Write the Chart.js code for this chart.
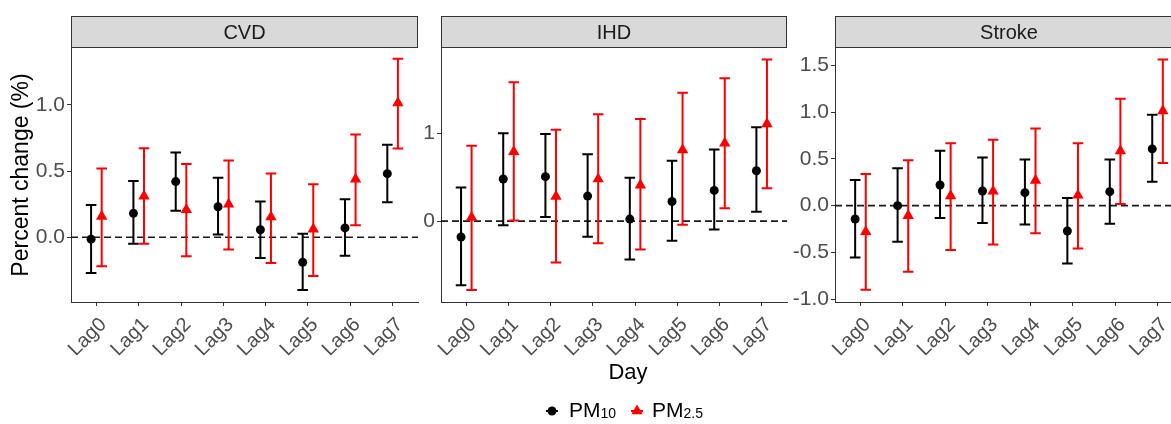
<!DOCTYPE html>
<html>
<head>
<meta charset="utf-8">
<script src="https://cdn.jsdelivr.net/npm/chart.js@4.4.1/dist/chart.umd.min.js"></script>
<style>
  html, body { margin: 0; padding: 0; background: #fff; overflow: hidden; }
  body { width: 1171px; height: 424px; position: relative; font-family: "Liberation Sans", Arial, sans-serif; }
  .box { position: absolute; top: 0; }
  #xTitle { position: absolute; left: 580px; width: 96px; top: 359px; text-align: center; font-size: 22px; color: #000; }
  .item { position: absolute; top: 397px; font-size: 21px; line-height: 26px; color: #000; white-space: nowrap; }
  .item sub { font-size: 14px; vertical-align: baseline; position: relative; top: 1px; }
  .key { position: absolute; top: 397px; width: 24px; height: 26px; }
</style>
</head>
<body>
<div class="box" style="left:0px"><canvas id="chart-cvd" width="420" height="360"></canvas></div>
<div class="box" style="left:420px"><canvas id="chart-ihd" width="370" height="360"></canvas></div>
<div class="box" style="left:790px"><canvas id="chart-stroke" width="400" height="360"></canvas></div>
<div id="xTitle">Day</div>
<canvas class="key" id="key-pm10" width="24" height="26" style="left:540px"></canvas>
<span class="item" style="left:569px">PM<sub>10</sub></span>
<canvas class="key" id="key-pm25" width="24" height="26" style="left:625px"></canvas>
<span class="item" style="left:652px">PM<sub>2.5</sub></span>
<script>
const lags = ["Lag0", "Lag1", "Lag2", "Lag3", "Lag4", "Lag5", "Lag6", "Lag7"];

// CVD
const cvdPm10 = [-0.015, 0.18, 0.42, 0.23, 0.056, -0.19, 0.07, 0.48];
const cvdPm10Lo = [-0.27, -0.05, 0.2, 0.02, -0.157, -0.4, -0.14, 0.264];
const cvdPm10Hi = [0.244, 0.424, 0.64, 0.449, 0.269, 0.025, 0.287, 0.698];
const cvdPm25 = [0.157, 0.31, 0.208, 0.249, 0.152, 0.061, 0.439, 1.015];
const cvdPm25Lo = [-0.22, -0.05, -0.145, -0.094, -0.195, -0.294, 0.091, 0.67];
const cvdPm25Hi = [0.52, 0.673, 0.553, 0.579, 0.482, 0.401, 0.777, 1.348];

// IHD
const ihdPm10 = [-0.18, 0.48, 0.506, 0.285, 0.023, 0.224, 0.35, 0.574];
const ihdPm10Lo = [-0.73, -0.046, 0.046, -0.179, -0.437, -0.224, -0.095, 0.106];
const ihdPm10Hi = [0.384, 1.0, 0.992, 0.76, 0.494, 0.688, 0.814, 1.068];
const ihdPm25 = [0.042, 0.79, 0.281, 0.479, 0.41, 0.81, 0.886, 1.106];
const ihdPm25Lo = [-0.783, 0.008, -0.471, -0.251, -0.323, -0.042, 0.148, 0.373];
const ihdPm25Hi = [0.859, 1.58, 1.04, 1.217, 1.163, 1.46, 1.627, 1.84];

// Stroke
const strokePm10 = [-0.143, 0.0, 0.221, 0.157, 0.139, -0.271, 0.15, 0.607];
const strokePm10Lo = [-0.554, -0.386, -0.132, -0.186, -0.2, -0.618, -0.193, 0.257];
const strokePm10Hi = [0.275, 0.4, 0.586, 0.514, 0.493, 0.082, 0.493, 0.971];
const strokePm25 = [-0.279, -0.107, 0.104, 0.154, 0.271, 0.111, 0.586, 1.014];
const strokePm25Lo = [-0.9, -0.707, -0.475, -0.414, -0.296, -0.457, 0.018, 0.457];
const strokePm25Hi = [0.339, 0.486, 0.668, 0.704, 0.825, 0.668, 1.143, 1.564];

const cvdTicks = [0, 0.5, 1.0];
const ihdTicks = [0, 1];
const strokeTicks = [-1.0, -0.5, 0, 0.5, 1.0, 1.5];

const black = "#000000";
const red = "#ff0000";
const axisColor = "#333333";
const tickColor = "#4d4d4d";
const fontFamily = "'Liberation Sans', Arial, sans-serif";
const dodge = 0.125;

// dashed line at zero + error bars, under the points
const errorBarPlugin = {
    id: "errorBars",
    beforeDatasetsDraw(chart) {
        const { ctx, chartArea, scales } = chart;
        const x = scales.x, y = scales.y;
        ctx.save();
        ctx.beginPath();
        ctx.rect(chartArea.left, chartArea.top, chartArea.right - chartArea.left, chartArea.bottom - chartArea.top);
        ctx.clip();
        const y0 = y.getPixelForValue(0);
        ctx.strokeStyle = "#1a1a1a";
        ctx.lineWidth = 1.6;
        ctx.setLineDash([7, 4]);
        ctx.beginPath();
        ctx.moveTo(chartArea.left, y0);
        ctx.lineTo(chartArea.right, y0);
        ctx.stroke();
        ctx.setLineDash([]);
        chart.data.datasets.forEach(ds => {
            ctx.strokeStyle = ds.borderColor;
            ctx.lineWidth = 2;
            ds.data.forEach((p, i) => {
                const px = x.getPixelForValue(p.x);
                const top = y.getPixelForValue(ds.errHi[i]);
                const bot = y.getPixelForValue(ds.errLo[i]);
                ctx.beginPath();
                ctx.moveTo(px, top);
                ctx.lineTo(px, bot);
                ctx.moveTo(px - 5.3, top);
                ctx.lineTo(px + 5.3, top);
                ctx.moveTo(px - 5.3, bot);
                ctx.lineTo(px + 5.3, bot);
                ctx.stroke();
            });
        });
        ctx.restore();
    }
};

// grey facet strip above the panel
const stripPlugin = {
    id: "strip",
    afterDraw(chart, args, opts) {
        const { ctx, chartArea } = chart;
        ctx.save();
        ctx.fillStyle = "#d9d9d9";
        ctx.strokeStyle = axisColor;
        ctx.lineWidth = 1;
        const w = chartArea.right - chartArea.left;
        ctx.fillRect(chartArea.left, 16, w, 32);
        ctx.strokeRect(chartArea.left + 0.5, 16.5, w - 1, 31);
        ctx.fillStyle = "#1a1a1a";
        ctx.font = "20px " + fontFamily;
        ctx.textAlign = "center";
        ctx.textBaseline = "middle";
        ctx.fillText(opts.text, chartArea.left + w / 2, 33);
        ctx.restore();
    }
};

function makeChart(canvasId, name, pm10, pm10Lo, pm10Hi, pm25, pm25Lo, pm25Hi, yMin, yMax, yTicks, digits, yWidth, padRight, showTitle) {
    return new Chart(document.getElementById(canvasId), {
        type: "scatter",
        data: {
            datasets: [
                {
                    label: "PM10",
                    data: pm10.map((v, i) => ({ x: i - dodge, y: v })),
                    errLo: pm10Lo,
                    errHi: pm10Hi,
                    pointStyle: "circle",
                    pointRadius: 4.5,
                    backgroundColor: black,
                    borderColor: black,
                    borderWidth: 0,
                },
                {
                    label: "PM2.5",
                    data: pm25.map((v, i) => ({ x: i + dodge, y: v })),
                    errLo: pm25Lo,
                    errHi: pm25Hi,
                    pointStyle: "triangle",
                    pointRadius: 6.6,
                    backgroundColor: red,
                    borderColor: red,
                    borderWidth: 0,
                },
            ],
        },
        options: {
            responsive: false,
            animation: false,
            events: [],
            layout: { autoPadding: false, padding: { top: 48, right: padRight, bottom: 0, left: 0 } },
            plugins: {
                legend: { display: false },
                tooltip: { enabled: false },
                strip: { text: name },
            },
            scales: {
                x: {
                    type: "linear",
                    min: -0.6,
                    max: 7.6,
                    afterBuildTicks: s => { s.ticks = lags.map((l, i) => ({ value: i })); },
                    afterFit: s => { s.height = 58; s.paddingLeft = 0; s.paddingRight = 0; },
                    grid: { drawOnChartArea: false, drawTicks: true, tickLength: 4, color: axisColor },
                    border: { display: true, color: axisColor, width: 1 },
                    ticks: {
                        minRotation: 45,
                        maxRotation: 45,
                        padding: 7,
                        labelOffset: 7,
                        color: tickColor,
                        font: { size: 20, family: fontFamily },
                        callback: v => lags[v],
                    },
                },
                y: {
                    min: yMin,
                    max: yMax,
                    afterBuildTicks: s => { s.ticks = yTicks.map(v => ({ value: v })); },
                    afterFit: s => { s.width = yWidth; s.paddingTop = 0; s.paddingBottom = 0; },
                    grid: { drawOnChartArea: false, drawTicks: true, tickLength: 4, color: axisColor },
                    border: { display: true, color: axisColor, width: 1 },
                    ticks: {
                        padding: 2,
                        color: tickColor,
                        font: { size: 21, family: fontFamily },
                        callback: v => v.toFixed(digits),
                    },
                    title: {
                        display: showTitle,
                        text: "Percent change (%)",
                        color: "#000",
                        font: { size: 23, family: fontFamily },
                        padding: { top: 8, bottom: 0 },
                    },
                },
            },
        },
        plugins: [errorBarPlugin, stripPlugin],
    });
}

makeChart("chart-cvd", "CVD", cvdPm10, cvdPm10Lo, cvdPm10Hi, cvdPm25, cvdPm25Lo, cvdPm25Hi,
    -0.49, 1.43, cvdTicks, 1, 71, 2, true);
makeChart("chart-ihd", "IHD", ihdPm10, ihdPm10Lo, ihdPm10Hi, ihdPm25, ihdPm25Lo, ihdPm25Hi,
    -0.92, 1.97, ihdTicks, 0, 21, 3, false);
makeChart("chart-stroke", "Stroke", strokePm10, strokePm10Lo, strokePm10Hi, strokePm25, strokePm25Lo, strokePm25Hi,
    -1.03, 1.686, strokeTicks, 1, 45, 7, false);

// legend keys
function drawKey(id, color, shape) {
    const ctx = document.getElementById(id).getContext("2d");
    ctx.strokeStyle = color;
    ctx.fillStyle = color;
    ctx.lineWidth = 2;
    ctx.beginPath();
    ctx.moveTo(6, 14);
    ctx.lineTo(18, 14);
    ctx.stroke();
    ctx.beginPath();
    if (shape === "circle") {
        ctx.arc(12, 14, 4.5, 0, Math.PI * 2);
    } else {
        ctx.moveTo(12, 7.4);
        ctx.lineTo(17.7, 17.3);
        ctx.lineTo(6.3, 17.3);
        ctx.closePath();
    }
    ctx.fill();
}
drawKey("key-pm10", black, "circle");
drawKey("key-pm25", red, "triangle");
</script>
</body>
</html>
